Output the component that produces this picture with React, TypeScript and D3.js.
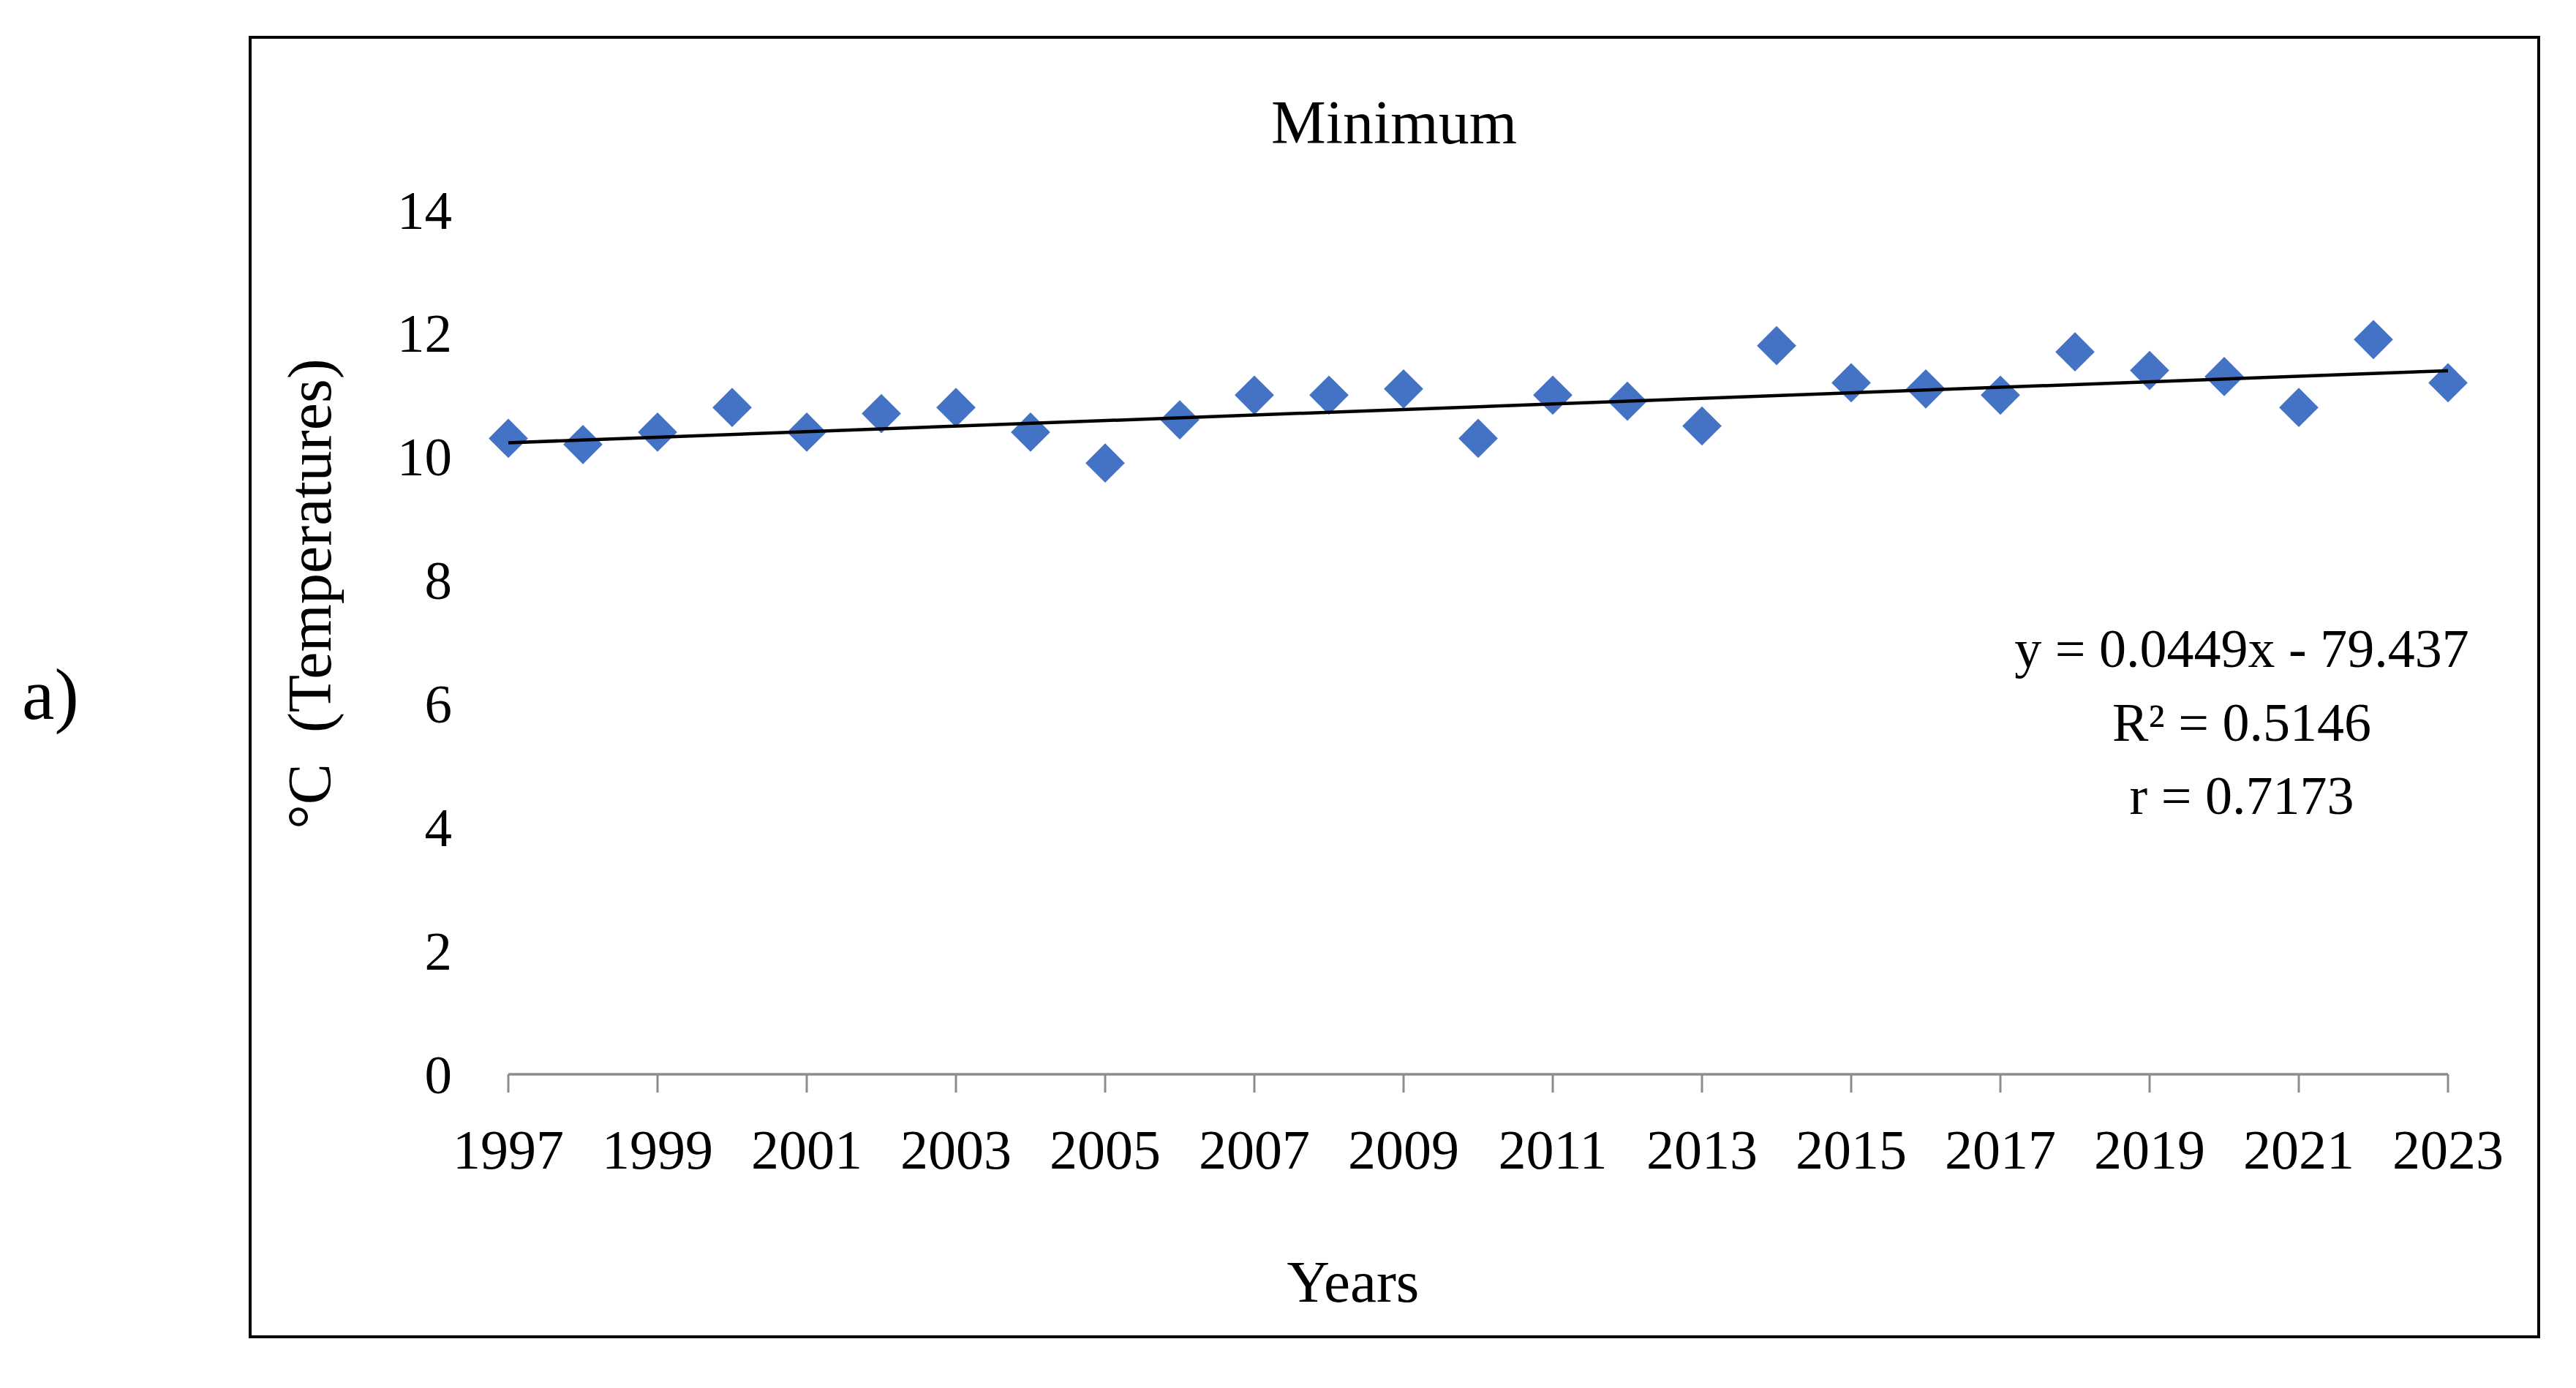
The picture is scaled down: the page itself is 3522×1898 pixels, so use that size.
import React from "react";
import * as d3 from "d3";

const years: number[] = [1997, 1998, 1999, 2000, 2001, 2002, 2003, 2004, 2005, 2006, 2007, 2008, 2009, 2010, 2011, 2012, 2013, 2014, 2015, 2016, 2017, 2018, 2019, 2020, 2021, 2022, 2023];
const minTemps: number[] = [10.3, 10.2, 10.4, 10.8, 10.4, 10.7, 10.8, 10.4, 9.9, 10.6, 11.0, 11.0, 11.1, 10.3, 11.0, 10.9, 10.5, 11.8, 11.2, 11.1, 11.0, 11.7, 11.4, 11.3, 10.8, 11.9, 11.2];
const yTicks: number[] = [0, 2, 4, 6, 8, 10, 12, 14];
const xTickYears: number[] = [1997, 1999, 2001, 2003, 2005, 2007, 2009, 2011, 2013, 2015, 2017, 2019, 2021, 2023];
const trendSlope = 0.0449;
const trendIntercept = -79.437;
const equationLines: string[] = ["y = 0.0449x - 79.437", "R\u00B2 = 0.5146", "r = 0.7173"];
const titleText = "Minimum";
const xTitle = "Years";
const yTitle = "\u00B0C  (Temperatures)";
const panelLabel = "a)";

const W = 3522;
const H = 1898;
const FONT = "'Liberation Serif', 'Times New Roman', serif";

export default function App() {
  const x = d3.scaleLinear().domain([1997, 2023]).range([695, 3347]);
  const y = d3.scaleLinear().domain([0, 14]).range([1469, 287]);
  const diamond = d3.symbol().type(d3.symbolSquare).size(38 * 38)();
  const trend = d3.line<number>().x((d) => x(d)).y((d) => y(trendSlope * d + trendIntercept));
  const trendYears = [years[0], years[years.length - 1]];

  return (
    <svg
      width={W}
      height={H}
      viewBox={`0 0 ${W} ${H}`}
      style={{ position: "absolute", left: 0, top: 0, display: "block", background: "#fff" }}
      fontFamily={FONT}
    >
      <rect x={0} y={0} width={W} height={H} fill="#fff" />
      <rect x={342} y={51} width={3129} height={1777} fill="none" stroke="#000" strokeWidth={4} />

      <text x={30} y={983} fontSize={100} fill="#000">{panelLabel}</text>

      <text x={1906} y={196} fontSize={84} textAnchor="middle" fill="#000">{titleText}</text>

      {yTicks.map((t) => (
        <text key={t} x={618} y={y(t)} dy="0.34em" fontSize={75} textAnchor="end" fill="#000">{t}</text>
      ))}

      <line x1={x(1997)} x2={x(2023)} y1={y(0)} y2={y(0)} stroke="#8c8c8c" strokeWidth={3.5} />
      {xTickYears.map((yr) => (
        <line key={"t" + yr} x1={x(yr)} x2={x(yr)} y1={y(0)} y2={y(0) + 25} stroke="#8c8c8c" strokeWidth={3} />
      ))}
      {xTickYears.map((yr) => (
        <text key={"l" + yr} x={x(yr)} y={1598} fontSize={76} textAnchor="middle" fill="#000">{yr}</text>
      ))}

      <text x={1850} y={1780} fontSize={81} textAnchor="middle" fill="#000">{xTitle}</text>
      <text
        transform={`translate(452, 812) rotate(-90)`}
        fontSize={84}
        textAnchor="middle"
        fill="#000"
        style={{ whiteSpace: "pre" }}
      >
        {yTitle}
      </text>

      {years.map((yr, i) => (
        <path
          key={"p" + yr}
          d={diamond || ""}
          transform={`translate(${x(yr)}, ${y(minTemps[i])}) rotate(45)`}
          fill="#4472C4"
        />
      ))}

      <path d={trend(trendYears) || ""} fill="none" stroke="#000" strokeWidth={4.5} />

      {equationLines.map((ln, i) => (
        <text key={"e" + i} x={3065} y={912 + i * 100.5} fontSize={74} textAnchor="middle" fill="#000">{ln}</text>
      ))}
    </svg>
  );
}
